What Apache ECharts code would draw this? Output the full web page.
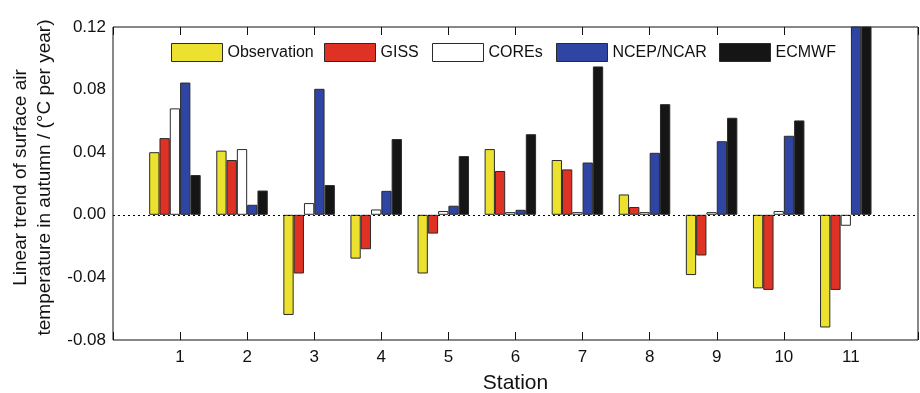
<!DOCTYPE html>
<html><head><meta charset="utf-8">
<script src="https://cdn.jsdelivr.net/npm/echarts@6/dist/echarts.min.js"></script>
<style>html,body{margin:0;padding:0;background:#fff}#c{width:920px;height:393px}</style>
</head><body><div id="c"></div>
<script>
var stations = ['1','2','3','4','5','6','7','8','9','10','11'];
var observation = [0.040, 0.041, -0.064, -0.028, -0.0375, 0.042, 0.035, 0.013, -0.0385, -0.047, -0.072];
var giss = [0.049, 0.035, -0.0375, -0.022, -0.012, 0.028, 0.029, 0.005, -0.026, -0.048, -0.048];
var cores = [0.068, 0.042, 0.0075, 0.0034, 0.0024, 0.0017, 0.0017, 0.0017, 0.0017, 0.0024, -0.007];
var ncep = [0.0845, 0.0064, 0.0805, 0.0153, 0.0058, 0.0032, 0.0334, 0.0396, 0.047, 0.0505, 0.145];
var ecmwf = [0.0254, 0.0155, 0.019, 0.0484, 0.0375, 0.0515, 0.0948, 0.0707, 0.062, 0.0603, 0.15];
var yTicks = [-0.08, -0.04, 0.00, 0.04, 0.08, 0.12];

var cats = [''].concat(stations, ['']);
function pad(a){ return [null].concat(a, [null]); }
var font = 'Liberation Sans, Arial, sans-serif';
var seriesDefs = [
  ['Observation', observation, '#ECE12E'],
  ['GISS', giss, '#E03224'],
  ['COREs', cores, '#FFFFFF'],
  ['NCEP/NCAR', ncep, '#2E45A3'],
  ['ECMWF', ecmwf, '#151515']
];
var legendLeft = [171, 324, 432, 556, 719];
var series = seriesDefs.map(function(d, i){
  var s = {
    name: d[0], type: 'bar', data: pad(d[1]), barWidth: 10.3, barGap: '0%',
    clip: true,
    itemStyle: { color: d[2], borderColor: '#2a2a2a', borderWidth: 1 }
  };
  if (i === 0) {
    s.markLine = { silent: true, symbol: 'none', label: { show: false },
      lineStyle: { color: '#000', type: [2, 3], width: 1.2 },
      data: [{ yAxis: 0 }] };
  }
  return s;
});
// empty spacer slot: the reference groups sit slightly left of their ticks
series.push({ name: '_spacer', type: 'bar', data: [], barWidth: 10.3, barGap: '0%', silent: true });

var legends = seriesDefs.map(function(d, i){
  return {
    top: 43, left: legendLeft[i], padding: 0, itemWidth: 51, itemHeight: 18,
    textStyle: { fontSize: 16, color: '#111', fontFamily: font },
    itemStyle: { borderColor: '#2a2a2a', borderWidth: 1 },
    data: [{ name: d[0], icon: 'rect' }]
  };
});

var chart = echarts.init(document.getElementById('c'));
chart.setOption({
  animation: false,
  textStyle: { fontFamily: font },
  grid: { left: 113, right: 2, top: 27, bottom: 53, outerBoundsMode: 'none', containLabel: false,
          show: true, borderColor: '#111', borderWidth: 1, backgroundColor: 'transparent' },
  legend: legends,
  xAxis: [{
    type: 'category', data: cats, boundaryGap: false,
    name: 'Station', nameLocation: 'middle', nameGap: 33,
    nameTextStyle: { fontSize: 21, color: '#111' },
    axisLine: { show: false, onZero: false },
    axisTick: { inside: true, length: 8, lineStyle: { color: '#111' }, interval: 0 },
    axisLabel: { fontSize: 17, color: '#111', margin: 9, interval: 0 },
    splitLine: { show: false }
  }, {
    type: 'category', data: cats, boundaryGap: false, position: 'top',
    axisLine: { show: false, onZero: false },
    axisTick: { inside: true, length: 8, lineStyle: { color: '#111' }, interval: 0 },
    axisLabel: { show: false }
  }],
  yAxis: [{
    type: 'value', min: yTicks[0], max: yTicks[yTicks.length-1], interval: 0.04,
    name: 'Linear trend of surface air\ntemperature in autumn / (°C per year)',
    nameLocation: 'middle', nameGap: 51,
    nameTextStyle: { fontSize: 19, color: '#111', lineHeight: 24, padding: [0, 0, 0, 12] },
    axisLine: { show: false, onZero: false },
    axisTick: { inside: true, length: 8, lineStyle: { color: '#111' } },
    axisLabel: { fontSize: 17, color: '#111', margin: 7, formatter: function(v){ return v.toFixed(2); } },
    splitLine: { show: false }
  }, {
    type: 'value', min: yTicks[0], max: yTicks[yTicks.length-1], interval: 0.04, position: 'right',
    axisLine: { show: false, onZero: false },
    axisTick: { inside: true, length: 8, lineStyle: { color: '#111' } },
    axisLabel: { show: false }, splitLine: { show: false }
  }],
  series: series
});
</script></body></html>
